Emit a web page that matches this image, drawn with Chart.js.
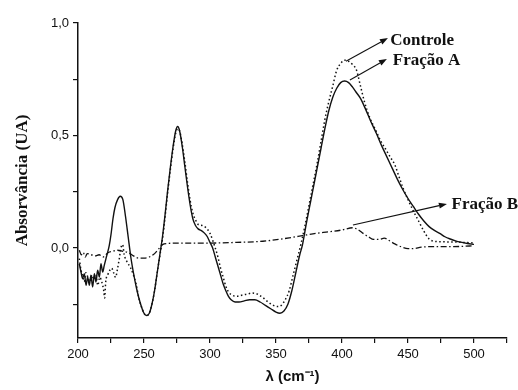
<!DOCTYPE html>
<html>
<head>
<meta charset="utf-8">
<script src="https://cdn.jsdelivr.net/npm/chart.js@4.4.1/dist/chart.umd.min.js"></script>
<style>
  html, body { margin: 0; padding: 0; background: #fff; }
  #spectrum { display: block; }
</style>
</head>
<body>
<canvas id="spectrum" width="518" height="390"></canvas>
<script>
// Fração A (solid line)
const fracaoAX = [201, 202.3, 203.5, 204.8, 206.1, 207.3, 208.6, 209.8, 211.1, 212.4, 213.6, 214.9, 216.2, 217.4, 218.7, 219.9, 221.2, 222.5, 223.7, 225, 226.5, 228, 230, 232, 234, 236, 238, 240, 242, 244, 246, 248, 250, 252, 254, 256, 258, 260, 262, 264, 266, 268, 270, 272, 274, 275.5, 277, 279, 281, 283, 285, 287, 289, 291, 294, 296, 298, 300, 302, 304, 306, 308, 310, 312, 314, 316, 319, 322, 326, 330, 334, 338, 342, 346, 350, 353, 356, 359, 362, 365, 368, 370, 373, 376, 379, 381, 384, 387, 390, 393, 396, 399, 402, 405, 408, 411, 414, 418, 422, 426, 430, 434, 438, 442, 446, 450, 454, 458, 462, 466, 470, 474, 478, 482, 486, 490, 495, 500];
const fracaoAY = [-0.07, -0.107, -0.136, -0.114, -0.166, -0.129, -0.166, -0.121, -0.173, -0.114, -0.151, -0.099, -0.129, -0.07, -0.107, -0.077, -0.047, -0.018, 0.012, 0.06, 0.13, 0.18, 0.215, 0.23, 0.215, 0.14, 0.05, -0.04, -0.11, -0.17, -0.22, -0.26, -0.29, -0.30, -0.29, -0.25, -0.19, -0.11, -0.03, 0.05, 0.15, 0.26, 0.36, 0.45, 0.52, 0.54, 0.52, 0.45, 0.36, 0.27, 0.19, 0.13, 0.10, 0.085, 0.075, 0.065, 0.05, 0.025, 0.0, -0.04, -0.08, -0.12, -0.16, -0.19, -0.215, -0.23, -0.24, -0.24, -0.235, -0.23, -0.23, -0.24, -0.255, -0.27, -0.285, -0.29, -0.28, -0.25, -0.19, -0.11, -0.03, 0.013, 0.11, 0.2, 0.29, 0.35, 0.44, 0.53, 0.61, 0.67, 0.71, 0.735, 0.742, 0.735, 0.715, 0.69, 0.665, 0.615, 0.56, 0.51, 0.455, 0.405, 0.355, 0.305, 0.26, 0.22, 0.185, 0.15, 0.12, 0.095, 0.078, 0.065, 0.05, 0.04, 0.032, 0.026, 0.02, 0.016];

// Controle (dotted line)
const controleX = [201, 202.3, 203.5, 204.8, 206, 207.5, 209, 210.5, 212, 213.5, 215, 216.5, 218, 219.5, 220.2, 221, 222.5, 224, 225.5, 227, 228.5, 230, 231.3, 232.5, 233.8, 235, 237, 240, 242, 244, 246, 248, 250, 252, 254, 256, 258, 260, 262, 264, 266, 268, 270, 272, 274, 275.5, 277, 279, 281, 283, 285, 287, 289, 291, 294, 297, 300, 302, 304, 306, 308, 310, 312, 314, 317, 320, 324, 328, 332, 336, 340, 344, 348, 351, 354, 357, 360, 363, 366, 369, 372, 375, 378, 381, 384, 387, 390, 393, 396, 399, 402, 405, 408, 411, 414, 417, 421, 425, 429, 433, 437, 440, 443, 446, 450, 454, 458, 462, 466, 470, 475, 480, 485, 490, 495, 500];
const controleY = [-0.047, -0.1, -0.12, -0.15, -0.11, -0.13, -0.15, -0.12, -0.14, -0.12, -0.166, -0.13, -0.15, -0.19, -0.222, -0.15, -0.12, -0.1, -0.09, -0.11, -0.13, -0.09, -0.047, 0.0, 0.015, -0.03, -0.06, -0.09, -0.12, -0.16, -0.22, -0.26, -0.29, -0.30, -0.29, -0.25, -0.19, -0.11, -0.035, 0.04, 0.14, 0.25, 0.35, 0.44, 0.51, 0.53, 0.52, 0.46, 0.38, 0.29, 0.21, 0.155, 0.125, 0.105, 0.1, 0.09, 0.065, 0.035, 0.0, -0.04, -0.09, -0.13, -0.17, -0.195, -0.21, -0.215, -0.21, -0.205, -0.2, -0.205, -0.22, -0.24, -0.255, -0.26, -0.255, -0.23, -0.19, -0.12, -0.05, 0.02, 0.1, 0.19, 0.28, 0.37, 0.47, 0.57, 0.65, 0.72, 0.79, 0.82, 0.835, 0.83, 0.815, 0.79, 0.72, 0.65, 0.58, 0.53, 0.48, 0.44, 0.40, 0.37, 0.32, 0.27, 0.215, 0.165, 0.12, 0.075, 0.04, 0.03, 0.028, 0.027, 0.027, 0.025, 0.024, 0.022];

// Fração B (dash-dot line)
const fracaoBX = [201, 202.5, 204, 205.5, 207, 210, 213, 216, 219, 221, 223, 226, 230, 234, 238, 242, 246, 250, 254, 258, 261, 264, 268, 275, 290, 300, 320, 340, 360, 370, 380, 390, 400, 408, 412, 416, 420, 424, 428, 432, 436, 440, 445, 450, 455, 460, 470, 480, 490, 500];
const fracaoBY = [-0.01, -0.03, -0.02, -0.04, -0.025, -0.03, -0.035, -0.03, -0.04, -0.03, -0.02, -0.015, -0.01, -0.015, -0.02, -0.035, -0.045, -0.045, -0.04, -0.025, -0.005, 0.015, 0.02, 0.022, 0.022, 0.022, 0.025, 0.03, 0.045, 0.055, 0.065, 0.072, 0.08, 0.09, 0.082, 0.065, 0.05, 0.038, 0.038, 0.044, 0.032, 0.018, 0.005, -0.003, -0.002, 0.004, 0.006, 0.006, 0.007, 0.01];

// labels with their arrows: [text, label x, label y, arrow from x, from y, to x, to y]
const labelNames = ['Controle', 'Fração A', 'Fração B'];
const labelAt = [[436.5, 0.902], [438.5, 0.813], [483, 0.173]];
const arrowFrom = [[403, 0.83], [406, 0.747], [408.3, 0.102]];
const arrowTo = [[434.8, 0.933], [434, 0.84], [479.5, 0.196]];

const toPoints = (xs, ys) => xs.map((x, i) => ({ x: x, y: ys[i] }));

const annotations = {
    id: 'annotations',
    afterDatasetsDraw(chart) {
        const ctx = chart.ctx;
        const xs = chart.scales.x;
        const ys = chart.scales.y;
        ctx.save();
        ctx.strokeStyle = '#111';
        ctx.fillStyle = '#111';
        ctx.lineWidth = 1.1;
        arrowFrom.forEach((from, i) => {
            const x1 = xs.getPixelForValue(from[0]);
            const y1 = ys.getPixelForValue(from[1]);
            const x2 = xs.getPixelForValue(arrowTo[i][0]);
            const y2 = ys.getPixelForValue(arrowTo[i][1]);
            const a = Math.atan2(y2 - y1, x2 - x1);
            const hl = 8, hw = 3;
            ctx.beginPath();
            ctx.moveTo(x1, y1);
            ctx.lineTo(x2 - hl * Math.cos(a), y2 - hl * Math.sin(a));
            ctx.stroke();
            ctx.beginPath();
            ctx.moveTo(x2, y2);
            ctx.lineTo(x2 - hl * Math.cos(a) + hw * Math.sin(a), y2 - hl * Math.sin(a) - hw * Math.cos(a));
            ctx.lineTo(x2 - hl * Math.cos(a) - hw * Math.sin(a), y2 - hl * Math.sin(a) + hw * Math.cos(a));
            ctx.closePath();
            ctx.fill();
        });
        ctx.font = 'bold 17px "Liberation Serif", "Times New Roman", serif';
        ctx.textBaseline = 'alphabetic';
        ctx.textAlign = 'left';
        labelNames.forEach((name, i) => {
            ctx.fillText(name, xs.getPixelForValue(labelAt[i][0]), ys.getPixelForValue(labelAt[i][1]));
        });
        ctx.restore();
    }
};

const tickFont = { family: '"Liberation Sans", Arial, sans-serif', size: 13 };

new Chart(document.getElementById('spectrum'), {
    type: 'line',
    data: {
        datasets: [{
            label: 'Controle',
            data: toPoints(controleX, controleY),
            borderColor: '#111',
            borderWidth: 1.5,
            borderDash: [1.5, 2.5],
            pointRadius: 0,
            cubicInterpolationMode: 'monotone'
        }, {
            label: 'Fração A',
            data: toPoints(fracaoAX, fracaoAY),
            borderColor: '#111',
            borderWidth: 1.4,
            pointRadius: 0,
            cubicInterpolationMode: 'monotone'
        }, {
            label: 'Fração B',
            data: toPoints(fracaoBX, fracaoBY),
            borderColor: '#111',
            borderWidth: 1.3,
            borderDash: [6, 2.5, 1.5, 2.5],
            pointRadius: 0,
            cubicInterpolationMode: 'monotone'
        }]
    },
    options: {
        responsive: false,
        animation: false,
        devicePixelRatio: 1,
        layout: { padding: { top: 23, right: 11, left: 0, bottom: 0 } },
        plugins: {
            legend: { display: false },
            tooltip: { enabled: false }
        },
        scales: {
            x: {
                type: 'linear',
                min: 200,
                max: 525,
                border: { color: '#111', width: 1.5 },
                grid: { drawOnChartArea: false, tickLength: 5, color: '#111', lineWidth: 1.2 },
                ticks: {
                    stepSize: 25,
                    padding: 4,
                    maxRotation: 0,
                    autoSkip: false,
                    color: '#111',
                    font: tickFont,
                    callback: v => (v % 50 === 0 ? String(v) : '')
                },
                title: {
                    display: true,
                    text: 'λ (cm⁻¹)',
                    color: '#111',
                    font: { family: '"Liberation Sans", Arial, sans-serif', size: 15, weight: 'bold' },
                    padding: { top: 0, bottom: 4 }
                },
                afterFit: scale => { scale.height = 52; }
            },
            y: {
                min: -0.4,
                max: 1.0,
                border: { color: '#111', width: 1.5 },
                grid: { drawOnChartArea: false, tickLength: 5, color: '#111', lineWidth: 1.2 },
                ticks: {
                    stepSize: 0.25,
                    includeBounds: false,
                    padding: 4,
                    autoSkip: false,
                    color: '#111',
                    font: tickFont,
                    callback: v => {
                        const half = Math.round(v * 2);
                        if (Math.abs(v * 2 - half) > 1e-6) return '';
                        return (half / 2).toFixed(1).replace('.', ',');
                    }
                },
                title: {
                    display: true,
                    text: 'Absorvância (UA)',
                    color: '#111',
                    font: { family: '"Liberation Serif", "Times New Roman", serif', size: 17, weight: 'bold' },
                    padding: { top: 12, bottom: 0 }
                },
                afterFit: scale => { scale.width = 78; }
            }
        }
    },
    plugins: [annotations]
});
</script>
</body>
</html>
